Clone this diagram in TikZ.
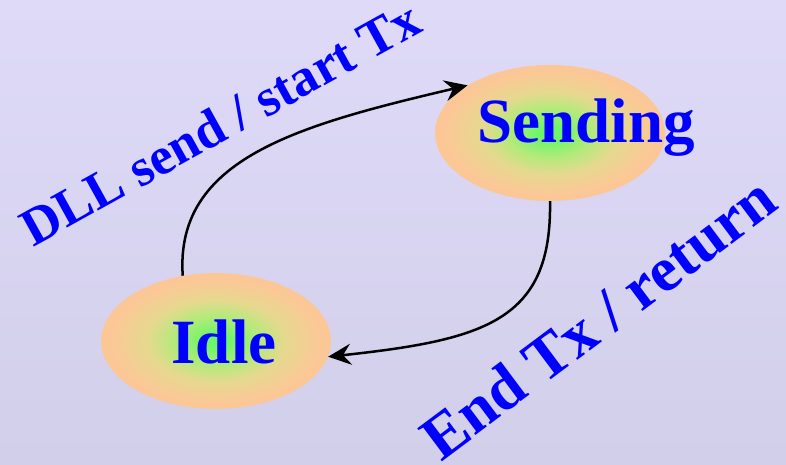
\documentclass[tikz,border=0pt]{standalone}
\usepackage{fontspec}
\setmainfont{Liberation Serif}
\usetikzlibrary{%
  arrows.meta,%
  shapes.geometric%
}
\definecolor{slidetop}{RGB}{222,218,248}
\definecolor{slidebottom}{RGB}{210,207,234}
\definecolor{labelblue}{RGB}{0,0,255}
\pgfdeclareradialshading{stateglow}{\pgfpoint{0bp}{0bp}}{%
  rgb(0bp)=(0.40,0.97,0.40); rgb(3bp)=(0.45,0.96,0.42);
  rgb(9bp)=(0.70,0.92,0.48); rgb(15bp)=(0.90,0.85,0.56);
  rgb(23bp)=(0.99,0.78,0.59); rgb(50bp)=(0.99,0.78,0.59)}
\tikzset{>={Stealth[length=23pt,width=21pt,inset=8pt]}}
\tikzset{
  state/.style={ellipse,minimum width=230pt,minimum height=136pt,
    inner sep=0pt,shading=stateglow},
  statename/.style={text=labelblue,anchor=base,inner sep=0pt,
    font=\fontsize{63}{63}\selectfont\bfseries},
  trans/.style={->,line width=2.5pt,black},
  translabel/.style={text=labelblue,anchor=base,inner sep=0pt}
}

\begin{document}
\begin{tikzpicture}[x=1pt,y=-1pt]
    \shade[top color=slidetop,bottom color=slidebottom] (0,0) rectangle (786,464);
    \useasboundingbox (0,0) rectangle (786,464);
    % states
    \node[state] (sending) at (550,133) {};
    \node[state] (idle) at (216,341) {};
    \node[statename] (sendingtext) at ([xshift=36pt,yshift=-9pt]sending.center) {Sending};
    \node[statename] (idletext) at ([xshift=8pt,yshift=-22pt]idle.center) {Idle};
    % transitions
    \draw[trans] (idle.117) .. controls +(-8,-117) and +(-170,40) .. (sending.150);
    \draw[trans] (sending.south) .. controls +(2,119) and +(158,-17) .. (idle.-8);
    \node[translabel,rotate=29,font=\fontsize{53}{53}\selectfont\bfseries]
      (startlabel) at (229,139) {DLL send / start Tx};
    \node[translabel,rotate=36.8,font=\fontsize{63}{63}\selectfont\bfseries]
      (endlabel) at (611,335) {End Tx / return};
\end{tikzpicture}
\end{document}
